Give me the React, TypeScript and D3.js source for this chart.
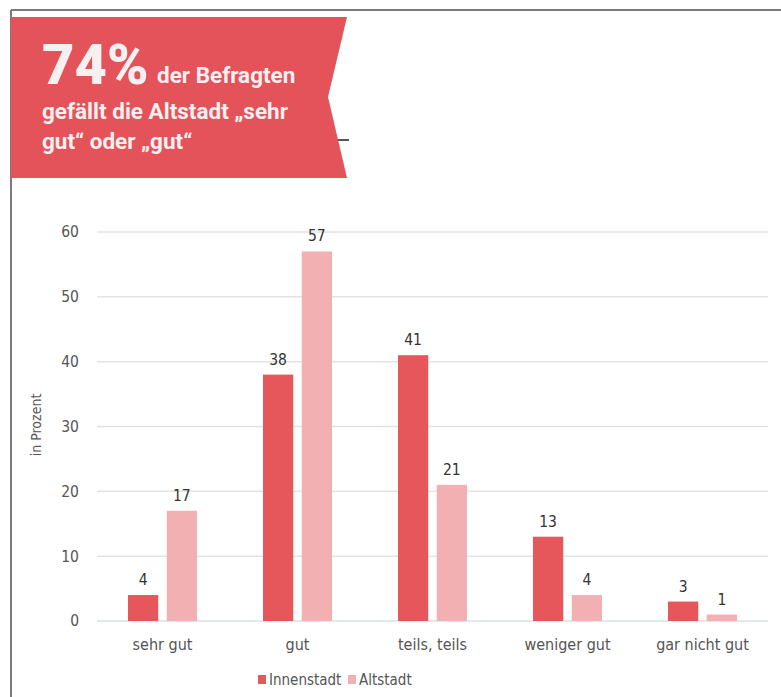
import React from "react";
import * as d3 from "d3";

const categories = ["sehr gut", "gut", "teils, teils", "weniger gut", "gar nicht gut"];
const series = ["Innenstadt", "Altstadt"];
const innenstadt = [4, 38, 41, 13, 3];
const altstadt = [17, 57, 21, 4, 1];
const yTicks = [0, 10, 20, 30, 40, 50, 60];
const colors = ["#e5575b", "#f3b0b2"];

const W = 781;
const H = 697;
const FONT = "'DejaVu Sans Condensed', 'DejaVu Sans', sans-serif";

export default function App() {
  const x0 = d3.scaleBand<string>().domain(categories).range([95, 770]);
  const x1 = d3.scaleBand<string>().domain(series).range([0, 69]).paddingInner(0.22);
  const y = d3.scaleLinear().domain([0, 60]).range([621, 232]);
  const values = [innenstadt, altstadt];

  const bannerPath = d3.path();
  bannerPath.moveTo(11, 17);
  bannerPath.lineTo(347, 17);
  bannerPath.lineTo(328, 97);
  bannerPath.lineTo(347, 178);
  bannerPath.lineTo(11, 178);
  bannerPath.closePath();

  return (
    <svg width={W} height={H} style={{ position: "absolute", left: 0, top: 0, background: "#fff" }}>
      <line x1={11} y1={10} x2={W} y2={10} stroke="#7a7a7a" strokeWidth={2} />
      <line x1={11} y1={10} x2={11} y2={H} stroke="#7a7a7a" strokeWidth={2} />
      <line x1={336} y1={140} x2={349} y2={140} stroke="#555" strokeWidth={2} />
      <path d={bannerPath.toString()} fill="#e4525a" />
      <g fill="#f7f0f0" fontFamily="Roboto, sans-serif" fontWeight={700}>
        <text x={42} y={83.5} fontSize={56} fontWeight={900}>74%</text>
        <text x={157} y={83} fontSize={22.5}>der Befragten</text>
        <text x={42} y={118.5} fontSize={22.5}>gefällt die Altstadt „sehr</text>
        <text x={42} y={149} fontSize={22.5}>gut“ oder „gut“</text>
      </g>

      {yTicks.map((t) => (
        <g key={t}>
          <line x1={97} x2={768} y1={y(t)} y2={y(t)} stroke={t === 0 ? "#d9e2e2" : "#e3e3e3"} strokeWidth={1.5} />
          <text x={79} y={y(t)} dy="0.35em" textAnchor="end" fontSize={15.5} fill="#555" fontFamily={FONT}>{t}</text>
        </g>
      ))}
      <text transform={`translate(41,425) rotate(-90)`} textAnchor="middle" fontSize={14} fill="#555" fontFamily={FONT}>in Prozent</text>

      {categories.map((c, i) => (
        <g key={c} transform={`translate(${(x0(c) ?? 0) + x0.bandwidth() / 2 - 34.5},0)`}>
          {series.map((s, j) => {
            const v = values[j][i];
            const bx = x1(s) ?? 0;
            return (
              <g key={s}>
                <rect x={bx} y={y(v)} width={x1.bandwidth()} height={y(0) - y(v)} fill={colors[j]} />
                <text x={bx + x1.bandwidth() / 2} y={y(v) - 10} textAnchor="middle" fontSize={15.5} fill="#333" fontFamily={FONT}>{v}</text>
              </g>
            );
          })}
        </g>
      ))}

      {categories.map((c) => (
        <text key={c} x={(x0(c) ?? 0) + x0.bandwidth() / 2} y={650} textAnchor="middle" fontSize={16} fill="#555" fontFamily={FONT}>{c}</text>
      ))}

      <g fontFamily={FONT} fontSize={15} fill="#555">
        <rect x={258} y={675} width={8} height={9} fill={colors[0]} />
        <text x={269} y={680} dy="0.35em">{series[0]}</text>
        <rect x={348} y={675} width={8} height={9} fill={colors[1]} />
        <text x={359} y={680} dy="0.35em">{series[1]}</text>
      </g>
    </svg>
  );
}
